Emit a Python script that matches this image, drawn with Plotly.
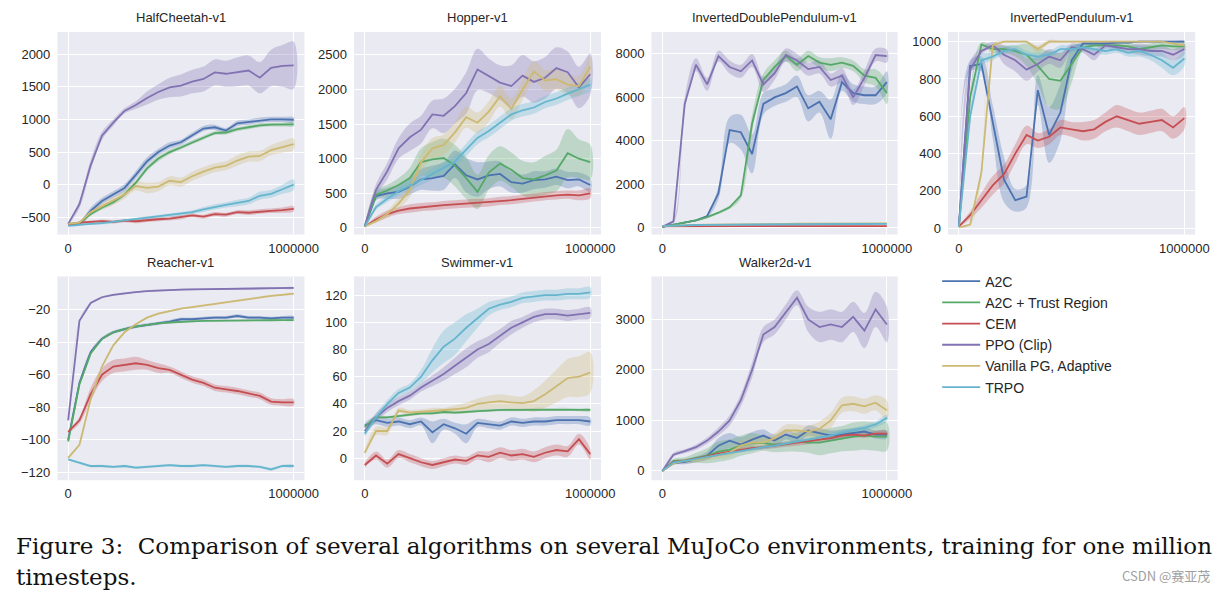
import plotly.graph_objects as go

# ---------------- data ----------------
STEPS = [0, 50000, 100000, 150000, 200000, 250000, 300000, 350000, 400000, 450000, 500000,
         550000, 600000, 650000, 700000, 750000, 800000, 850000, 900000, 950000, 1000000]

ALGOS = ["A2C", "A2C + Trust Region", "CEM", "PPO (Clip)", "Vanilla PG, Adaptive", "TRPO"]
COLORS = ["#4C72B0", "#55A868", "#C44E52", "#8172B2", "#CCB974", "#64B5CD"]

ENVS = ["HalfCheetah-v1", "Hopper-v1", "InvertedDoublePendulum-v1", "InvertedPendulum-v1",
        "Reacher-v1", "Swimmer-v1", "Walker2d-v1"]

# mean curves, per environment, in ALGOS order
halfcheetah_mean = [
    [-600, -600, -400, -250, -150, -50, 150, 360, 500, 600, 650, 760, 860, 880, 830, 940, 960, 990, 1000, 1000, 995],
    [-600, -590, -450, -350, -270, -150, 30, 250, 400, 500, 570, 650, 720, 790, 800, 850, 880, 910, 920, 920, 925],
    [-620, -580, -570, -560, -570, -550, -560, -540, -530, -520, -500, -470, -490, -450, -460, -420, -430, -410, -400, -390, -370],
    [-600, -300, 300, 750, 950, 1130, 1220, 1330, 1420, 1490, 1520, 1580, 1620, 1720, 1700, 1730, 1750, 1640, 1790, 1820, 1830],
    [-600, -580, -420, -330, -250, -150, -20, -50, -30, 60, 40, 130, 200, 260, 290, 370, 430, 440, 530, 580, 620],
    [-630, -610, -600, -590, -570, -550, -530, -510, -490, -470, -450, -420, -380, -340, -310, -280, -250, -170, -140, -70, 0],
]
halfcheetah_band = [
    [20, 30, 50, 50, 50, 60, 60, 60, 50, 50, 40, 40, 40, 40, 40, 40, 40, 40, 40, 40, 40],
    [20, 25, 30, 30, 30, 30, 40, 40, 40, 35, 30, 30, 30, 30, 30, 30, 30, 30, 30, 30, 30],
    [15, 20, 20, 25, 25, 25, 30, 30, 30, 30, 30, 30, 30, 30, 30, 30, 35, 35, 35, 40, 40],
    [20, 60, 80, 60, 50, 40, 60, 100, 120, 150, 170, 180, 190, 200, 200, 220, 230, 240, 280, 320, 360],
    [20, 25, 40, 50, 60, 60, 70, 80, 70, 70, 70, 70, 70, 70, 70, 80, 80, 80, 80, 90, 90],
    [15, 15, 15, 20, 20, 20, 25, 25, 25, 30, 30, 30, 40, 40, 40, 50, 50, 60, 60, 70, 80],
]

hopper_mean = [
    [20, 460, 500, 520, 600, 700, 720, 750, 920, 760, 700, 760, 780, 660, 640, 690, 700, 740, 690, 700, 620],
    [20, 480, 540, 620, 720, 950, 990, 1010, 900, 720, 520, 800, 930, 840, 720, 700, 760, 830, 1080, 1000, 950],
    [20, 120, 200, 250, 280, 300, 310, 330, 340, 350, 360, 370, 390, 400, 420, 440, 460, 470, 480, 470, 500],
    [30, 550, 820, 1150, 1310, 1420, 1640, 1620, 1760, 1950, 2290, 2200, 2100, 2050, 2200, 2110, 2170, 2310, 2250, 2030, 2220],
    [20, 100, 200, 350, 550, 950, 1150, 1200, 1380, 1600, 1520, 1680, 1900, 1720, 2000, 2260, 2130, 2150, 2070, 2050, 2330],
    [20, 300, 420, 530, 610, 690, 780, 870, 960, 1130, 1300, 1400, 1520, 1640, 1700, 1740, 1820, 1870, 1940, 2000, 2070],
]
hopper_band = [
    [10, 60, 80, 100, 120, 150, 180, 200, 200, 250, 250, 200, 180, 150, 130, 130, 120, 120, 120, 100, 100],
    [10, 70, 80, 100, 150, 200, 250, 280, 300, 300, 250, 250, 250, 250, 250, 250, 280, 300, 350, 280, 250],
    [5, 40, 50, 50, 60, 60, 60, 60, 60, 60, 60, 60, 60, 60, 60, 60, 60, 60, 60, 70, 70],
    [10, 80, 120, 150, 200, 200, 200, 250, 250, 300, 300, 250, 250, 300, 300, 300, 300, 300, 300, 300, 300],
    [5, 30, 50, 80, 100, 120, 150, 150, 150, 150, 150, 150, 150, 150, 150, 150, 150, 150, 150, 150, 150],
    [5, 40, 50, 60, 70, 70, 80, 80, 80, 90, 90, 90, 90, 90, 90, 90, 90, 90, 90, 90, 90],
]

idp_mean = [
    [50, 150, 250, 350, 550, 1600, 4500, 4400, 3400, 5700, 6000, 6200, 6500, 5500, 5800, 5000, 6700, 6200, 6100, 6100, 6700],
    [50, 150, 250, 350, 500, 700, 950, 1500, 4800, 6800, 7400, 7900, 7500, 7900, 7600, 7500, 7600, 7450, 7000, 6900, 6200],
    [70, 75, 75, 80, 80, 80, 80, 80, 80, 80, 80, 80, 80, 80, 80, 80, 80, 80, 80, 80, 80],
    [50, 300, 5700, 7500, 6600, 7900, 7400, 7200, 7700, 6600, 7100, 7950, 7700, 7300, 7400, 6800, 7000, 6000, 6900, 7950, 7900],
    [80, 110, 130, 140, 150, 160, 170, 175, 180, 185, 190, 190, 195, 195, 200, 200, 200, 200, 205, 205, 210],
    [80, 110, 125, 135, 145, 150, 155, 160, 165, 165, 170, 170, 175, 175, 175, 180, 180, 180, 180, 185, 185],
]
idp_band = [
    [10, 20, 30, 40, 60, 300, 600, 800, 900, 500, 400, 400, 500, 600, 500, 900, 400, 400, 400, 400, 500],
    [10, 20, 30, 40, 50, 60, 80, 150, 400, 300, 300, 250, 300, 250, 250, 300, 250, 250, 300, 400, 500],
    [5, 5, 5, 5, 5, 5, 5, 5, 5, 5, 5, 5, 5, 5, 5, 5, 5, 5, 5, 5, 5],
    [10, 100, 300, 300, 300, 250, 300, 300, 300, 350, 300, 300, 300, 300, 300, 300, 350, 350, 350, 300, 300],
    [5, 10, 10, 10, 10, 10, 10, 10, 10, 10, 10, 10, 10, 10, 10, 10, 10, 10, 10, 10, 10],
    [5, 10, 10, 10, 10, 10, 10, 10, 10, 10, 10, 10, 10, 10, 10, 10, 10, 10, 10, 10, 10],
]

ip_mean = [
    [10, 870, 880, 570, 260, 150, 170, 740, 500, 620, 900, 990, 990, 990, 995, 995, 1000, 1000, 1000, 1000, 1000],
    [10, 700, 985, 960, 960, 950, 930, 870, 800, 790, 880, 970, 980, 980, 980, 975, 960, 970, 980, 975, 975],
    [10, 70, 150, 230, 290, 400, 500, 470, 490, 540, 530, 520, 530, 570, 600, 580, 560, 570, 580, 540, 590],
    [10, 850, 950, 980, 930, 900, 850, 880, 920, 900, 970, 960, 930, 980, 970, 960, 960, 950, 950, 930, 960],
    [5, 20, 300, 980, 1000, 1000, 1000, 960, 1000, 1000, 1000, 1000, 1000, 1000, 1000, 1000, 1000, 1000, 1000, 990, 980],
    [10, 600, 900, 920, 950, 960, 930, 920, 930, 960, 960, 970, 960, 950, 960, 940, 950, 930, 900, 860, 910],
]
ip_band = [
    [5, 30, 40, 90, 120, 60, 60, 80, 150, 150, 60, 10, 10, 10, 5, 5, 5, 5, 5, 5, 5],
    [5, 40, 10, 20, 20, 30, 60, 100, 150, 150, 100, 20, 10, 10, 15, 20, 20, 20, 20, 20, 20],
    [5, 20, 40, 50, 50, 50, 50, 40, 40, 40, 40, 50, 50, 50, 60, 60, 60, 60, 60, 60, 60],
    [5, 40, 20, 20, 50, 60, 60, 40, 40, 40, 20, 20, 30, 20, 20, 20, 30, 30, 30, 30, 30],
    [3, 5, 30, 10, 5, 5, 5, 20, 10, 5, 5, 5, 5, 5, 5, 5, 5, 5, 5, 5, 10],
    [5, 40, 30, 20, 20, 20, 20, 20, 20, 20, 20, 20, 20, 20, 20, 20, 30, 30, 40, 40, 40],
]

reacher_mean = [
    [-100, -65, -46, -38, -34, -32, -30.5, -29.5, -28.5, -27.5, -26, -26, -25.5, -25, -25, -24, -25, -25, -25.5, -25, -25],
    [-101, -66, -47, -38, -34, -32, -30.5, -29.5, -28.5, -28, -27.5, -27.3, -27, -27, -26.8, -26.8, -26.7, -26.6, -26.6, -26.5, -26.5],
    [-95, -88, -72, -60, -55, -54, -53, -54, -56, -57, -60, -63, -65, -68, -69, -70, -71.5, -73, -76.5, -77, -77],
    [-88, -27, -16, -12.5, -11, -10, -9.3, -8.7, -8.3, -8, -7.8, -7.7, -7.6, -7.5, -7.4, -7.3, -7.2, -7.1, -7.0, -6.9, -6.8],
    [-111, -103, -75, -55, -42, -34, -29, -25, -22.5, -21, -19.5, -18.5, -17.5, -16.5, -15.5, -14.5, -13.5, -12.5, -11.7, -11, -10.3],
    [-112, -114, -116, -116, -116.5, -116, -117, -116.5, -116, -115.5, -116, -116, -115.5, -116, -116.5, -116, -116, -116.5, -118, -116, -116],
]
reacher_band = [
    [0.5, 1, 1, 1, 1, 1, 1, 1, 1, 1, 1, 1, 1, 1, 1, 1, 1, 1, 1, 1, 1],
    [0.5, 1, 1, 0.8, 0.6, 0.5, 0.5, 0.5, 0.5, 0.5, 0.5, 0.5, 0.5, 0.5, 0.5, 0.5, 0.5, 0.5, 0.5, 0.5, 0.5],
    [1, 2, 4, 4, 4, 4, 4, 3, 3, 2, 2, 2, 2, 2, 2, 2, 2, 2, 2, 2, 2],
    [0.5, 0.5, 0.5, 0.5, 0.5, 0.5, 0.5, 0.5, 0.5, 0.5, 0.5, 0.5, 0.5, 0.5, 0.5, 0.5, 0.5, 0.5, 0.5, 0.5, 0.5],
    [0.5, 0.5, 0.5, 0.5, 0.5, 0.5, 0.5, 0.5, 0.5, 0.5, 0.5, 0.5, 0.5, 0.5, 0.5, 0.5, 0.5, 0.5, 0.5, 0.5, 0.5],
    [0.5, 0.8, 0.8, 0.8, 0.8, 0.8, 0.8, 0.8, 0.8, 0.8, 0.8, 0.8, 0.8, 0.8, 0.8, 0.8, 0.8, 0.8, 1, 0.8, 0.8],
]

swimmer_mean = [
    [24, 28, 26, 27, 25, 27, 19, 25, 22, 18, 26, 25, 24, 27, 26, 27, 27, 28, 28, 28, 27],
    [23, 30, 30, 31, 32, 33, 33, 34, 33.5, 34, 35, 35, 35.5, 35.5, 35.5, 36, 36, 36, 36, 35.5, 35.5],
    [-5, 2, -4, 3, 0, -3, -5, -3, -1, -2, 2, 1, 4, 2, 3, 1, 4, 6, 5, 14, 3],
    [20, 30, 37, 42, 46, 52, 57, 62, 68, 74, 80, 84, 90, 96, 100, 104, 106, 106, 105, 106, 107],
    [4, 20, 20, 35, 33.5, 34, 35, 35, 36, 37, 40, 41, 42, 41, 40.5, 42, 47, 53, 59, 60, 63],
    [18, 30, 40, 48, 52, 60, 72, 82, 88, 96, 103, 110, 113, 115, 118, 119, 120, 120, 121, 121, 122],
]
swimmer_band = [
    [2, 3, 3, 3, 3, 3, 8, 4, 4, 7, 3, 3, 3, 3, 3, 3, 3, 3, 3, 3, 3],
    [1, 1, 1, 1, 1, 1, 1, 1, 1, 1, 1, 1, 1, 1, 1, 1, 1, 1, 1, 1, 1],
    [2, 3, 3, 3, 3, 3, 3, 3, 3, 3, 3, 4, 4, 4, 4, 4, 4, 4, 4, 4, 4],
    [2, 3, 3, 3, 3, 3, 4, 5, 6, 7, 6, 6, 5, 5, 4, 4, 4, 4, 4, 4, 4],
    [2, 3, 3, 2, 2, 2, 2, 2, 3, 4, 4, 5, 5, 5, 5, 8, 10, 12, 14, 15, 15],
    [2, 3, 3, 3, 3, 5, 9, 12, 12, 10, 7, 5, 4, 4, 4, 4, 4, 4, 4, 4, 4],
]

walker_mean = [
    [0, 150, 180, 230, 300, 500, 600, 520, 620, 700, 600, 720, 650, 800, 750, 700, 720, 750, 780, 720, 720],
    [0, 200, 210, 260, 300, 380, 420, 500, 550, 550, 520, 530, 580, 560, 560, 600, 640, 680, 700, 680, 680],
    [0, 180, 200, 240, 290, 340, 380, 420, 450, 470, 500, 530, 550, 580, 620, 650, 700, 720, 700, 740, 740],
    [0, 320, 390, 470, 600, 780, 1000, 1400, 2000, 2700, 2850, 3150, 3430, 3000, 2850, 2900, 2850, 3050, 2780, 3200, 2900],
    [0, 150, 200, 220, 270, 320, 360, 500, 560, 560, 650, 800, 800, 780, 830, 1000, 1300, 1330, 1280, 1350, 1200],
    [0, 170, 200, 240, 280, 320, 360, 400, 440, 470, 500, 540, 580, 610, 650, 700, 760, 800, 850, 920, 1050],
]
walker_band = [
    [5, 30, 50, 60, 80, 150, 150, 150, 150, 120, 120, 100, 100, 100, 100, 100, 100, 100, 80, 80, 80],
    [5, 40, 60, 100, 150, 200, 200, 200, 200, 150, 150, 150, 200, 200, 250, 250, 250, 280, 280, 280, 280],
    [5, 20, 30, 30, 40, 40, 40, 40, 40, 40, 50, 50, 50, 50, 50, 50, 50, 50, 50, 50, 50],
    [5, 40, 40, 50, 60, 80, 100, 120, 150, 150, 150, 150, 150, 250, 300, 300, 300, 300, 350, 350, 350],
    [5, 30, 40, 50, 60, 80, 80, 100, 100, 100, 100, 120, 120, 120, 150, 150, 150, 150, 150, 150, 200],
    [5, 20, 20, 30, 30, 30, 30, 30, 40, 40, 40, 40, 40, 40, 50, 50, 50, 50, 60, 60, 60],
]

MEANS = [halfcheetah_mean, hopper_mean, idp_mean, ip_mean, reacher_mean, swimmer_mean, walker_mean]
BANDS = [halfcheetah_band, hopper_band, idp_band, ip_band, reacher_band, swimmer_band, walker_band]

Y_RANGES = [[-765, 2341], [-97, 2832], [-307, 9010], [-34, 1052],
            [-124.7, 0.2], [-16.2, 133.7], [-184, 3850]]
Y_TICKS = [[-500, 0, 500, 1000, 1500, 2000], [0, 500, 1000, 1500, 2000, 2500],
           [0, 2000, 4000, 6000, 8000], [0, 200, 400, 600, 800, 1000],
           [-120, -100, -80, -60, -40, -20], [0, 20, 40, 60, 80, 100, 120],
           [0, 1000, 2000, 3000]]
X_TICKS = [0, 1000000]

CAPTION_1 = "Figure 3:  Comparison of several algorithms on several MuJoCo environments, training for one million"
CAPTION_2 = "timesteps."
WATERMARK = "CSDN @赛亚茂"

# ---------------- layout ----------------
W, H = 1227, 592
COLS_PX = [(58, 308), (358, 608), (659, 908), (959, 1209)]
ROWS_PX = [(32, 235), (277, 481)]

def rgba(hexc, a):
    h = hexc.lstrip("#")
    return "rgba(%d,%d,%d,%.2f)" % (int(h[0:2], 16), int(h[2:4], 16), int(h[4:6], 16), a)

fig = go.Figure()
TXT = "#262626"
FONT = "Liberation Sans, Arial, sans-serif"

for p, env in enumerate(ENVS):
    r, c = divmod(p, 4)
    ax = "" if p == 0 else str(p + 1)
    x0, x1 = COLS_PX[c]
    y0, y1 = ROWS_PX[r]
    fig.layout["xaxis" + ax] = dict(
        domain=[x0 / W, x1 / W], anchor="y" + ax, range=[-48000, 1048000],
        tickvals=X_TICKS, ticktext=[str(v) for v in X_TICKS], showgrid=True,
        gridcolor="white", gridwidth=1.2, zeroline=False, showline=False, ticks="",
        tickfont=dict(size=13, color=TXT, family=FONT), ticklabelstandoff=4)
    fig.layout["yaxis" + ax] = dict(
        domain=[1 - y1 / H, 1 - y0 / H], anchor="x" + ax, range=Y_RANGES[p],
        tickvals=Y_TICKS[p], showgrid=True, gridcolor="white", gridwidth=1.2,
        zeroline=False, showline=False, ticks="",
        tickfont=dict(size=13, color=TXT, family=FONT), ticklabelstandoff=6)
    # background
    fig.add_shape(type="rect", xref="x" + ax + " domain", yref="y" + ax + " domain",
                  x0=0, x1=1, y0=0, y1=1, fillcolor="#EAEAF2", line_width=0, layer="below")
    fig.add_annotation(text=env, xref="x" + ax + " domain", yref="paper",
                       x=0.5, y=1 - (y0 - 5) / H, yanchor="bottom", showarrow=False,
                       font=dict(size=13, color=TXT, family=FONT))
    for k, algo in enumerate(ALGOS):
        m = MEANS[p][k]
        b = BANDS[p][k]
        up = [mv + bv for mv, bv in zip(m, b)]
        lo = [mv - bv for mv, bv in zip(m, b)]
        fig.add_trace(go.Scatter(x=STEPS + STEPS[::-1], y=up + lo[::-1], fill="toself",
                                 fillcolor=rgba(COLORS[k], 0.3), line=dict(width=0),
                                 mode="lines", hoverinfo="skip", showlegend=False,
                                 xaxis="x" + ax, yaxis="y" + ax, line_shape="spline"))
    for k, algo in enumerate(ALGOS):
        fig.add_trace(go.Scatter(x=STEPS, y=MEANS[p][k], mode="lines", name=algo,
                                 line=dict(color=COLORS[k], width=1.8),
                                 showlegend=(p == 0), legendgroup=algo,
                                 xaxis="x" + ax, yaxis="y" + ax))

fig.add_annotation(text=CAPTION_1, xref="paper", yref="paper", x=14 / W, y=1 - 547 / H,
                   xanchor="left", yanchor="middle", showarrow=False,
                   font=dict(size=23, color="#111111", family="DejaVu Serif, serif"))
fig.add_annotation(text=CAPTION_2, xref="paper", yref="paper", x=14 / W, y=1 - 578 / H,
                   xanchor="left", yanchor="middle", showarrow=False,
                   font=dict(size=23, color="#111111", family="DejaVu Serif, serif"))
fig.add_annotation(text=WATERMARK, xref="paper", yref="paper", x=1226 / W, y=1 - 576 / H,
                   xanchor="right", yanchor="middle", showarrow=False,
                   font=dict(size=13, color="#A0A0A0", family="Noto Sans CJK SC, sans-serif"))

fig.update_layout(
    width=W, height=H, margin=dict(l=0, r=0, t=0, b=0),
    paper_bgcolor="white", plot_bgcolor="rgba(0,0,0,0)",
    legend=dict(x=948 / W, y=1 - 266 / H, xanchor="left", yanchor="top",
                font=dict(size=14, color=TXT, family=FONT), itemwidth=38,
                bgcolor="rgba(0,0,0,0)", tracegroupgap=0),
    showlegend=True,
)

fig.write_html("out.html")
